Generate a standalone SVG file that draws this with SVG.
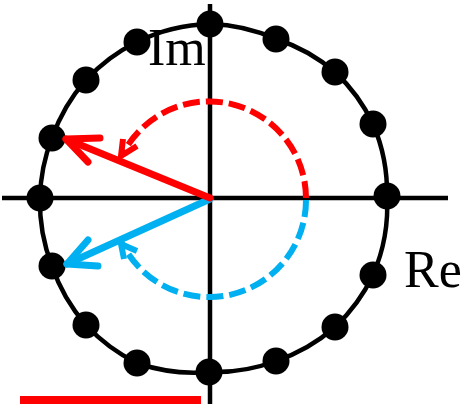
<svg xmlns="http://www.w3.org/2000/svg" width="462" height="404" viewBox="0 0 462 404">
<style>
.ring{fill:none;stroke:#000;stroke-width:4.5}
.axis{fill:none;stroke:#000;stroke-width:4.5}
.dot{fill:#000}
.red{stroke:#FF0000}
.blue{stroke:#00B0F0}
.solid{fill:none;stroke-width:7;stroke-linecap:round;stroke-linejoin:round}
.dash{fill:none;stroke-width:6;stroke-dasharray:17 6}
.head{fill:none;stroke-width:6;stroke-linecap:butt;stroke-linejoin:miter}
.lbl{font-family:"Liberation Serif","Times New Roman",serif;font-size:52px;fill:#000}
</style>
<rect width="462" height="404" fill="#fff"/>
<g id="unit-circle">
<path class="ring" d="M210,24 A174,174 0 0 1 276,39 A174,174 0 0 1 335,72 A174,174 0 0 1 373,124 A174,174 0 0 1 387,196 A174,174 0 0 1 373,275 A174,174 0 0 1 335,327 A174,174 0 0 1 276,361 A174,174 0 0 1 209,372 A174,174 0 0 1 137,363 A174,174 0 0 1 86,325 A174,174 0 0 1 52,266 A174,174 0 0 1 40,198 A174,174 0 0 1 52,138 A174,174 0 0 1 86,80 A174,174 0 0 1 137,42 A174,174 0 0 1 210,24 Z"/>
</g>
<g id="axes">
<line class="axis" x1="2" y1="198" x2="448" y2="198"/>
<line class="axis" x1="210" y1="4" x2="210" y2="404"/>
</g>
<g id="label-im"><text class="lbl" x="148" y="65">Im</text></g>
<g id="label-re"><text class="lbl" x="404" y="287">Re</text></g>
<g id="dots">
<circle class="dot" cx="210" cy="24" r="13.5"/>
<circle class="dot" cx="276" cy="39" r="13.5"/>
<circle class="dot" cx="335" cy="72" r="13.5"/>
<circle class="dot" cx="373" cy="124" r="13.5"/>
<circle class="dot" cx="387" cy="196" r="13.5"/>
<circle class="dot" cx="373" cy="275" r="13.5"/>
<circle class="dot" cx="335" cy="327" r="13.5"/>
<circle class="dot" cx="276" cy="361" r="13.5"/>
<circle class="dot" cx="209" cy="372" r="13.5"/>
<circle class="dot" cx="137" cy="363" r="13.5"/>
<circle class="dot" cx="86" cy="325" r="13.5"/>
<circle class="dot" cx="52" cy="266" r="13.5"/>
<circle class="dot" cx="40" cy="198" r="13.5"/>
<circle class="dot" cx="52" cy="138" r="13.5"/>
<circle class="dot" cx="86" cy="80" r="13.5"/>
<circle class="dot" cx="137" cy="42" r="13.5"/>
</g>
<g id="connectors">
<path class="dash red" d="M306,198 A97,97 0 0 0 122,155.5"/>
<polyline class="head red" points="123,139 121,156 137,146"/>
<path class="dash blue" d="M306,200 A97,97 0 0 1 122,243"/>
<polyline class="head blue" points="124,259 121,244 137,251"/>
<line class="solid blue" x1="210" y1="199" x2="67" y2="264"/>
<polyline class="solid blue" points="88,240 67,264 98,266"/>
<line class="solid red" x1="210" y1="198" x2="66" y2="139"/>
<polyline class="solid red" points="100,138 66,139 88,162"/>
</g>
<rect id="scale-bar" x="20" y="396" width="181" height="8" fill="#FF0000"/>
</svg>
